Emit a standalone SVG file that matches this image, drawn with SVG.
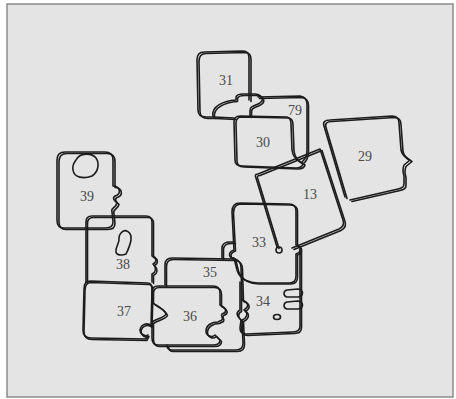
<svg xmlns="http://www.w3.org/2000/svg" xmlns:xlink="http://www.w3.org/1999/xlink" width="456" height="399" viewBox="0 0 456 399">
<style>
.o{fill:none;stroke:#1c1c1c;stroke-width:1.6;stroke-linejoin:round;stroke-linecap:round}
.t{font-family:"Liberation Serif","Times New Roman",serif;font-size:14px;fill:#4a4a4a;text-anchor:middle}
</style>
<rect x="0" y="0" width="456" height="399" fill="#ffffff"/>
<rect x="7" y="4" width="446" height="393" fill="#e4e4e4" stroke="#8a8a8a" stroke-width="1.5"/>
<g id="connectors"></g>
<g id="n31">
<path id="p31" class="o" d="M204,52 L243,51 Q249,51 249,58 L249,100 M214,117 L206,117 Q198,117 198,110 L197,60 Q197,52 204,52"/>
<use xlink:href="#p31" transform="translate(2,1.5)"/>
<text class="t" x="226" y="85">31</text>
</g>
<g id="n79">
<path id="p79" class="o" d="M213,116 C211,106 224,101 236,100 L236,97 Q237,94 243,94 L255,94 C263,95 265,101 258,104 C252,107 250,106 250,112 L250,116 M258,97 L300,96 Q307,97 307,104 L307,150 Q307,158 302,162 M214,117 L234,118"/>
<use xlink:href="#p79" transform="translate(1.5,1.5)"/>
<text class="t" x="295" y="115">79</text>
</g>
<g id="n30">
<path id="p30" class="o" d="M240,116 L287,117 Q291,118 291,124 L292,150 Q293,158 300,162 L303,164 Q302,168 296,168 L242,166 Q235,166 235,160 L234,122 Q234,116 240,116"/>
<use xlink:href="#p30" transform="translate(2,1)"/>
<text class="t" x="263" y="147">30</text>
</g>
<g id="n29">
<path id="p29" class="o" d="M324,126 Q322,120 330,120 L392,116 Q399,116 399,123 L401,150 Q402,156 410,160 L404,165 Q402,170 404,176 L404,184 Q404,188 398,189 L350,200 M324,126 L345,197"/>
<use xlink:href="#p29" transform="translate(2,1.5)"/>
<text class="t" x="365" y="161">29</text>
</g>
<g id="n13">
<path id="p13" class="o" d="M258,174 L320,149 L343,220 Q345,226 339,229 L292,248 M256,178 Q254,174 258,174 M256,178 L277,247"/>
<use xlink:href="#p13" transform="translate(2,1.5)"/>
<circle class="o" cx="279" cy="250" r="3"/>
<text class="t" x="310" y="199">13</text>
</g>
<g id="n39">
<path id="p39" class="o" d="M65,152 L105,152 Q113,152 113,160 L113,186 C120,186 122,194 115,196 C112,198 114,200 117,203 C116,208 110,208 112,212 L113,222 Q113,228 106,228 L64,228 Q57,228 57,220 L57,160 Q57,152 65,152"/>
<use xlink:href="#p39" transform="translate(2,1.5)"/>
<path class="o" d="M76,160 C80,152 92,153 96,158 C100,164 98,172 92,176 C84,179 74,178 73,170 C72,165 74,163 76,160Z"/>
<text class="t" x="87" y="201">39</text>
</g>
<g id="n38">
<path id="p38" class="o" d="M92,216 L146,216 Q152,216 152,222 L152,256 C157,257 157,262 153,264 C157,268 156,272 152,274 L152,282 M86,282 L86,222 Q86,216 92,216"/>
<use xlink:href="#p38" transform="translate(1.5,1.5)"/>
<path class="o" d="M121,233 C125,228 132,232 131,240 C130,246 128,250 126,254 C122,256 116,255 116,252 C115,247 120,243 119,238 C119,236 120,234 121,233Z"/>
<text class="t" x="123" y="269">38</text>
</g>
<g id="n37">
<path id="p37" class="o" d="M90,281 L148,283 Q152,283 152,290 L151,326 C148,322 141,324 140,330 C140,334 145,337 148,335 L146,339 L91,338 Q83,338 83,330 L84,289 Q84,281 90,281"/>
<use xlink:href="#p37" transform="translate(1,1.5)"/>
<text class="t" x="124" y="316">37</text>
</g>
<g id="n35">
<path id="p35" class="o" d="M165,285 L165,265 Q165,258 172,258 L234,259 Q241,260 241,268 L242,300 C248,302 250,306 244,310 C249,313 247,318 242,320 L243,343 Q243,350 236,350 L172,350 Q167,350 167,345"/>
<use xlink:href="#p35" transform="translate(1.5,1.5)"/>
<text class="t" x="210" y="277">35</text>
</g>
<g id="n36">
<path id="p36" class="o" d="M158,286 L213,286 Q220,286 220,293 L220,305 C226,308 228,312 222,314 C220,316 224,318 222,320 L218,322 C212,322 206,325 206,331 C206,336 212,338 215,335 L220,340 Q220,345 213,345 L158,345 Q152,345 152,338 L152,322 C158,318 164,318 166,314 C164,308 156,306 152,302 L152,292 Q152,286 158,286"/>
<use xlink:href="#p36" transform="translate(1.5,1.5)"/>
<text class="t" x="190" y="321">36</text>
</g>
<g id="n33">
<path id="p33" class="o" d="M240,203 L289,204 Q296,204 296,211 L296,245 C301,246 302,252 296,254 L296,276 Q296,283 289,283 L258,283 C250,283 240,280 237,270 L234,258 C228,258 228,252 234,250 L232,212 Q232,203 240,203"/>
<use xlink:href="#p33" transform="translate(1.5,1)"/>
<text class="t" x="259" y="247">33</text>
</g>
<g id="n34">
<path id="p34" class="o" d="M222,258 L222,247 Q223,242 230,242 L234,242 M300,250 L300,326 Q300,332 293,332 L246,334 Q240,334 240,328 L241,320 C236,316 236,312 240,310 L240,282"/>
<use xlink:href="#p34" transform="translate(1.5,1.5)"/>
<path class="o" d="M287,290 L298,289 C304,290 304,296 298,297 L287,297 C283,296 283,291 287,290Z M287,302 L298,301 C304,302 304,308 298,309 L287,309 C283,308 283,303 287,302Z"/>
<ellipse class="o" cx="277" cy="317" rx="3.5" ry="2.5"/>
<text class="t" x="263" y="306">34</text>
</g>
</svg>
